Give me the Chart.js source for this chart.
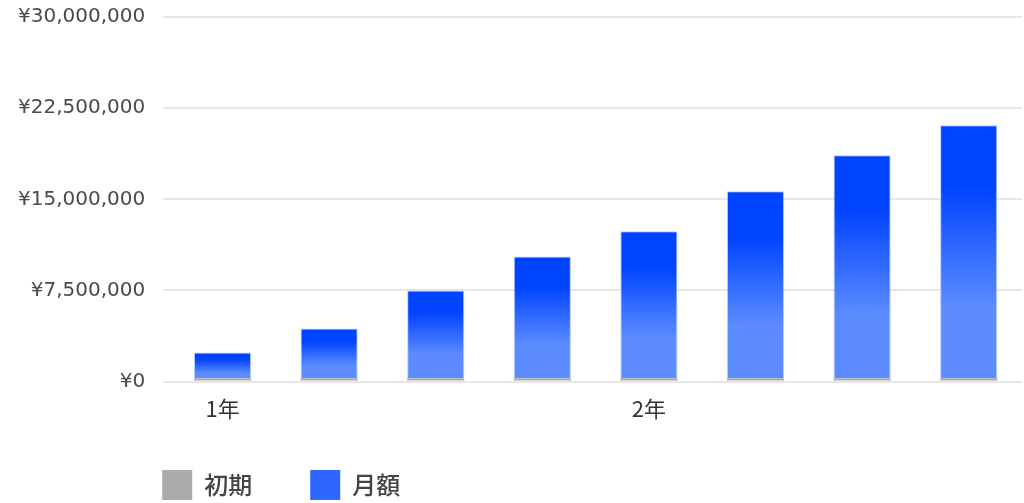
<!DOCTYPE html>
<html>
<head>
<meta charset="utf-8">
<script src="https://cdn.jsdelivr.net/npm/chart.js@4"></script>
<style>
  html, body { margin: 0; padding: 0; background: #fff; }
  #wrap { width: 1024px; height: 503px; }
</style>
</head>
<body>
<div id="wrap"><canvas id="graficoPlano"></canvas></div>
<script>
// dados do gráfico
const rotulos = ["1年", "", "", "", "2年", "", "", ""];
const inicial = [280000, 280000, 280000, 280000, 280000, 280000, 280000, 280000];
const mensal = [2110000, 4090000, 7220000, 10020000, 12090000, 15380000, 18350000, 20820000];
const ticksY = [0, 7500000, 15000000, 22500000, 30000000];

const cinza = "#ababab";
const azulLegenda = "#2e66ff";
const azulEscuro = "#0044ff";
const azulClaro = "#5b8bff";

// gradiente por barra, do topo (escuro) até a base (claro)
function gradienteBarra(ctx) {
  const grafico = ctx.chart;
  if (ctx.type !== "data" || !grafico.chartArea) return azulLegenda;
  const y = grafico.scales.y;
  const topo = y.getPixelForValue(inicial[ctx.dataIndex] + mensal[ctx.dataIndex]);
  const base = y.getPixelForValue(0);
  const g = grafico.ctx.createLinearGradient(0, topo, 0, base);
  g.addColorStop(0, azulEscuro);
  g.addColorStop(0.24, azulEscuro);
  g.addColorStop(0.7, azulClaro);
  g.addColorStop(1, azulClaro);
  return g;
}

// desloca a legenda para alinhar com a área do gráfico
const moveLegenda = {
  id: "moveLegenda",
  afterLayout(chart) {
    const lg = chart.legend;
    const pad = lg.options.labels.padding;
    lg.left = chart.chartArea.left - 7 - pad;
    lg.top = chart.height - 33 - pad;
  }
};

const graficoPlano = document.getElementById("graficoPlano");

new Chart(graficoPlano, {
  type: "bar",
  data: {
    labels: rotulos,
    datasets: [{
      label: "初期",
      data: inicial,
      backgroundColor: cinza,
      borderWidth: 0,
      categoryPercentage: 0.8,
      barPercentage: 0.67
    }, {
      label: "月額",
      data: mensal,
      backgroundColor: gradienteBarra,
      borderColor: "rgba(150,180,255,0.7)",
      borderWidth: 1,
      categoryPercentage: 0.8,
      barPercentage: 0.67
    }]
  },
  options: {
    responsive: true,
    maintainAspectRatio: false,
    animation: false,
    layout: { padding: { left: 0, right: 2, top: 17, bottom: -16 } },
    scales: {
      x: {
        stacked: true,
        grid: { display: false, drawTicks: false },
        border: { display: false },
        ticks: {
          autoSkip: false,
          maxRotation: 0,
          padding: 14,
          color: "#333",
          font: { family: "'Noto Sans CJK JP'", size: 22 }
        }
      },
      y: {
        stacked: true,
        min: 0,
        max: 30000000,
        afterBuildTicks: (eixo) => { eixo.ticks = ticksY.map((v) => ({ value: v })); },
        afterFit: (eixo) => { eixo.paddingTop = 0; },
        grid: { color: "#e6e6e6", lineWidth: 2, tickLength: 6 },
        border: { display: false },
        ticks: {
          padding: 18,
          color: "#4a4a4a",
          font: { family: "'DejaVu Sans'", size: 20 },
          callback: (v) => "¥" + v.toLocaleString("en-US")
        }
      }
    },
    plugins: {
      tooltip: { enabled: false },
      legend: {
        position: "bottom",
        align: "start",
        maxHeight: 83,
        labels: {
          boxWidth: 30,
          boxHeight: 30,
          padding: 58,
          color: "#444",
          font: { family: "'Noto Sans CJK JP'", size: 24, weight: "500" },
          generateLabels: (chart) => {
            const itens = Chart.defaults.plugins.legend.labels.generateLabels(chart);
            const cores = [cinza, azulLegenda];
            itens.forEach((item, i) => {
              item.fillStyle = cores[i];
              item.strokeStyle = cores[i];
              item.lineWidth = 0;
            });
            return itens;
          }
        }
      }
    }
  },
  plugins: [moveLegenda]
});
</script>
</body>
</html>
